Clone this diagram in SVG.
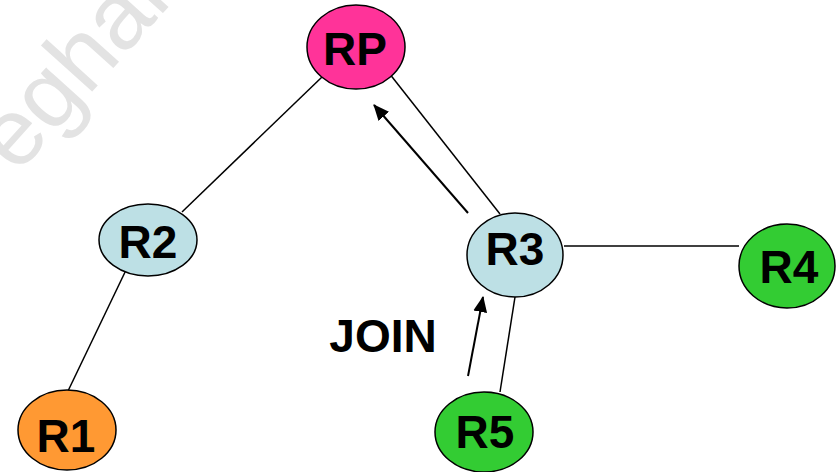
<svg xmlns="http://www.w3.org/2000/svg" width="838" height="472" viewBox="0 0 838 472">
<defs>
<style>
.n{stroke:#000;stroke-width:1.5}
.t{font-family:"Liberation Sans",Arial,sans-serif;font-weight:bold;font-size:46px;text-anchor:middle;fill:#000}
.c{stroke:#000;stroke-width:1.5;fill:none}
.a{stroke-width:2}
</style>
<marker id="ah" viewBox="0 0 16 14" refX="15" refY="7" markerWidth="16" markerHeight="14" markerUnits="userSpaceOnUse" orient="auto"><path d="M0,0 L16,7 L0,14 z" fill="#000"/></marker>
</defs>
<rect width="838" height="472" fill="#fff"/>
<text x="0" y="0" transform="translate(17,175) rotate(-48)" font-family="Liberation Sans,Arial,sans-serif" font-size="95" fill="#e3e3e3">eghan</text>
<g id="connectors">
<line class="c" x1="322" y1="77" x2="182" y2="212"/>
<line class="c" x1="389" y1="73" x2="500" y2="214"/>
<line class="c a" x1="468" y1="213" x2="374" y2="105" marker-end="url(#ah)"/>
<line class="c" x1="564" y1="246" x2="739" y2="246"/>
<line class="c" x1="515" y1="297" x2="500" y2="392"/>
<line class="c a" x1="468" y1="376" x2="483" y2="297" marker-end="url(#ah)"/>
<line class="c" x1="127" y1="268" x2="68" y2="391"/>
</g>
<g id="RP"><ellipse class="n" cx="356" cy="47" rx="49" ry="42" fill="#ff3399"/><text class="t" x="355" y="65">RP</text></g>
<g id="R2"><ellipse class="n" cx="148" cy="240" rx="49" ry="36" fill="#bde0e5"/><text class="t" x="148" y="258">R2</text></g>
<g id="R3"><ellipse class="n" cx="515" cy="255" rx="48" ry="42" fill="#bde0e5"/><text class="t" x="515" y="265">R3</text></g>
<g id="R4"><ellipse class="n" cx="787" cy="266" rx="48" ry="42" fill="#33cc33"/><text class="t" x="789" y="283">R4</text></g>
<g id="R1"><ellipse class="n" cx="67" cy="430" rx="49" ry="40" fill="#ff9933"/><text class="t" x="66" y="452">R1</text></g>
<g id="R5"><ellipse class="n" cx="484" cy="432" rx="49" ry="40" fill="#33cc33"/><text class="t" x="485" y="448">R5</text></g>
<text class="t" x="383" y="352">JOIN</text>
</svg>
